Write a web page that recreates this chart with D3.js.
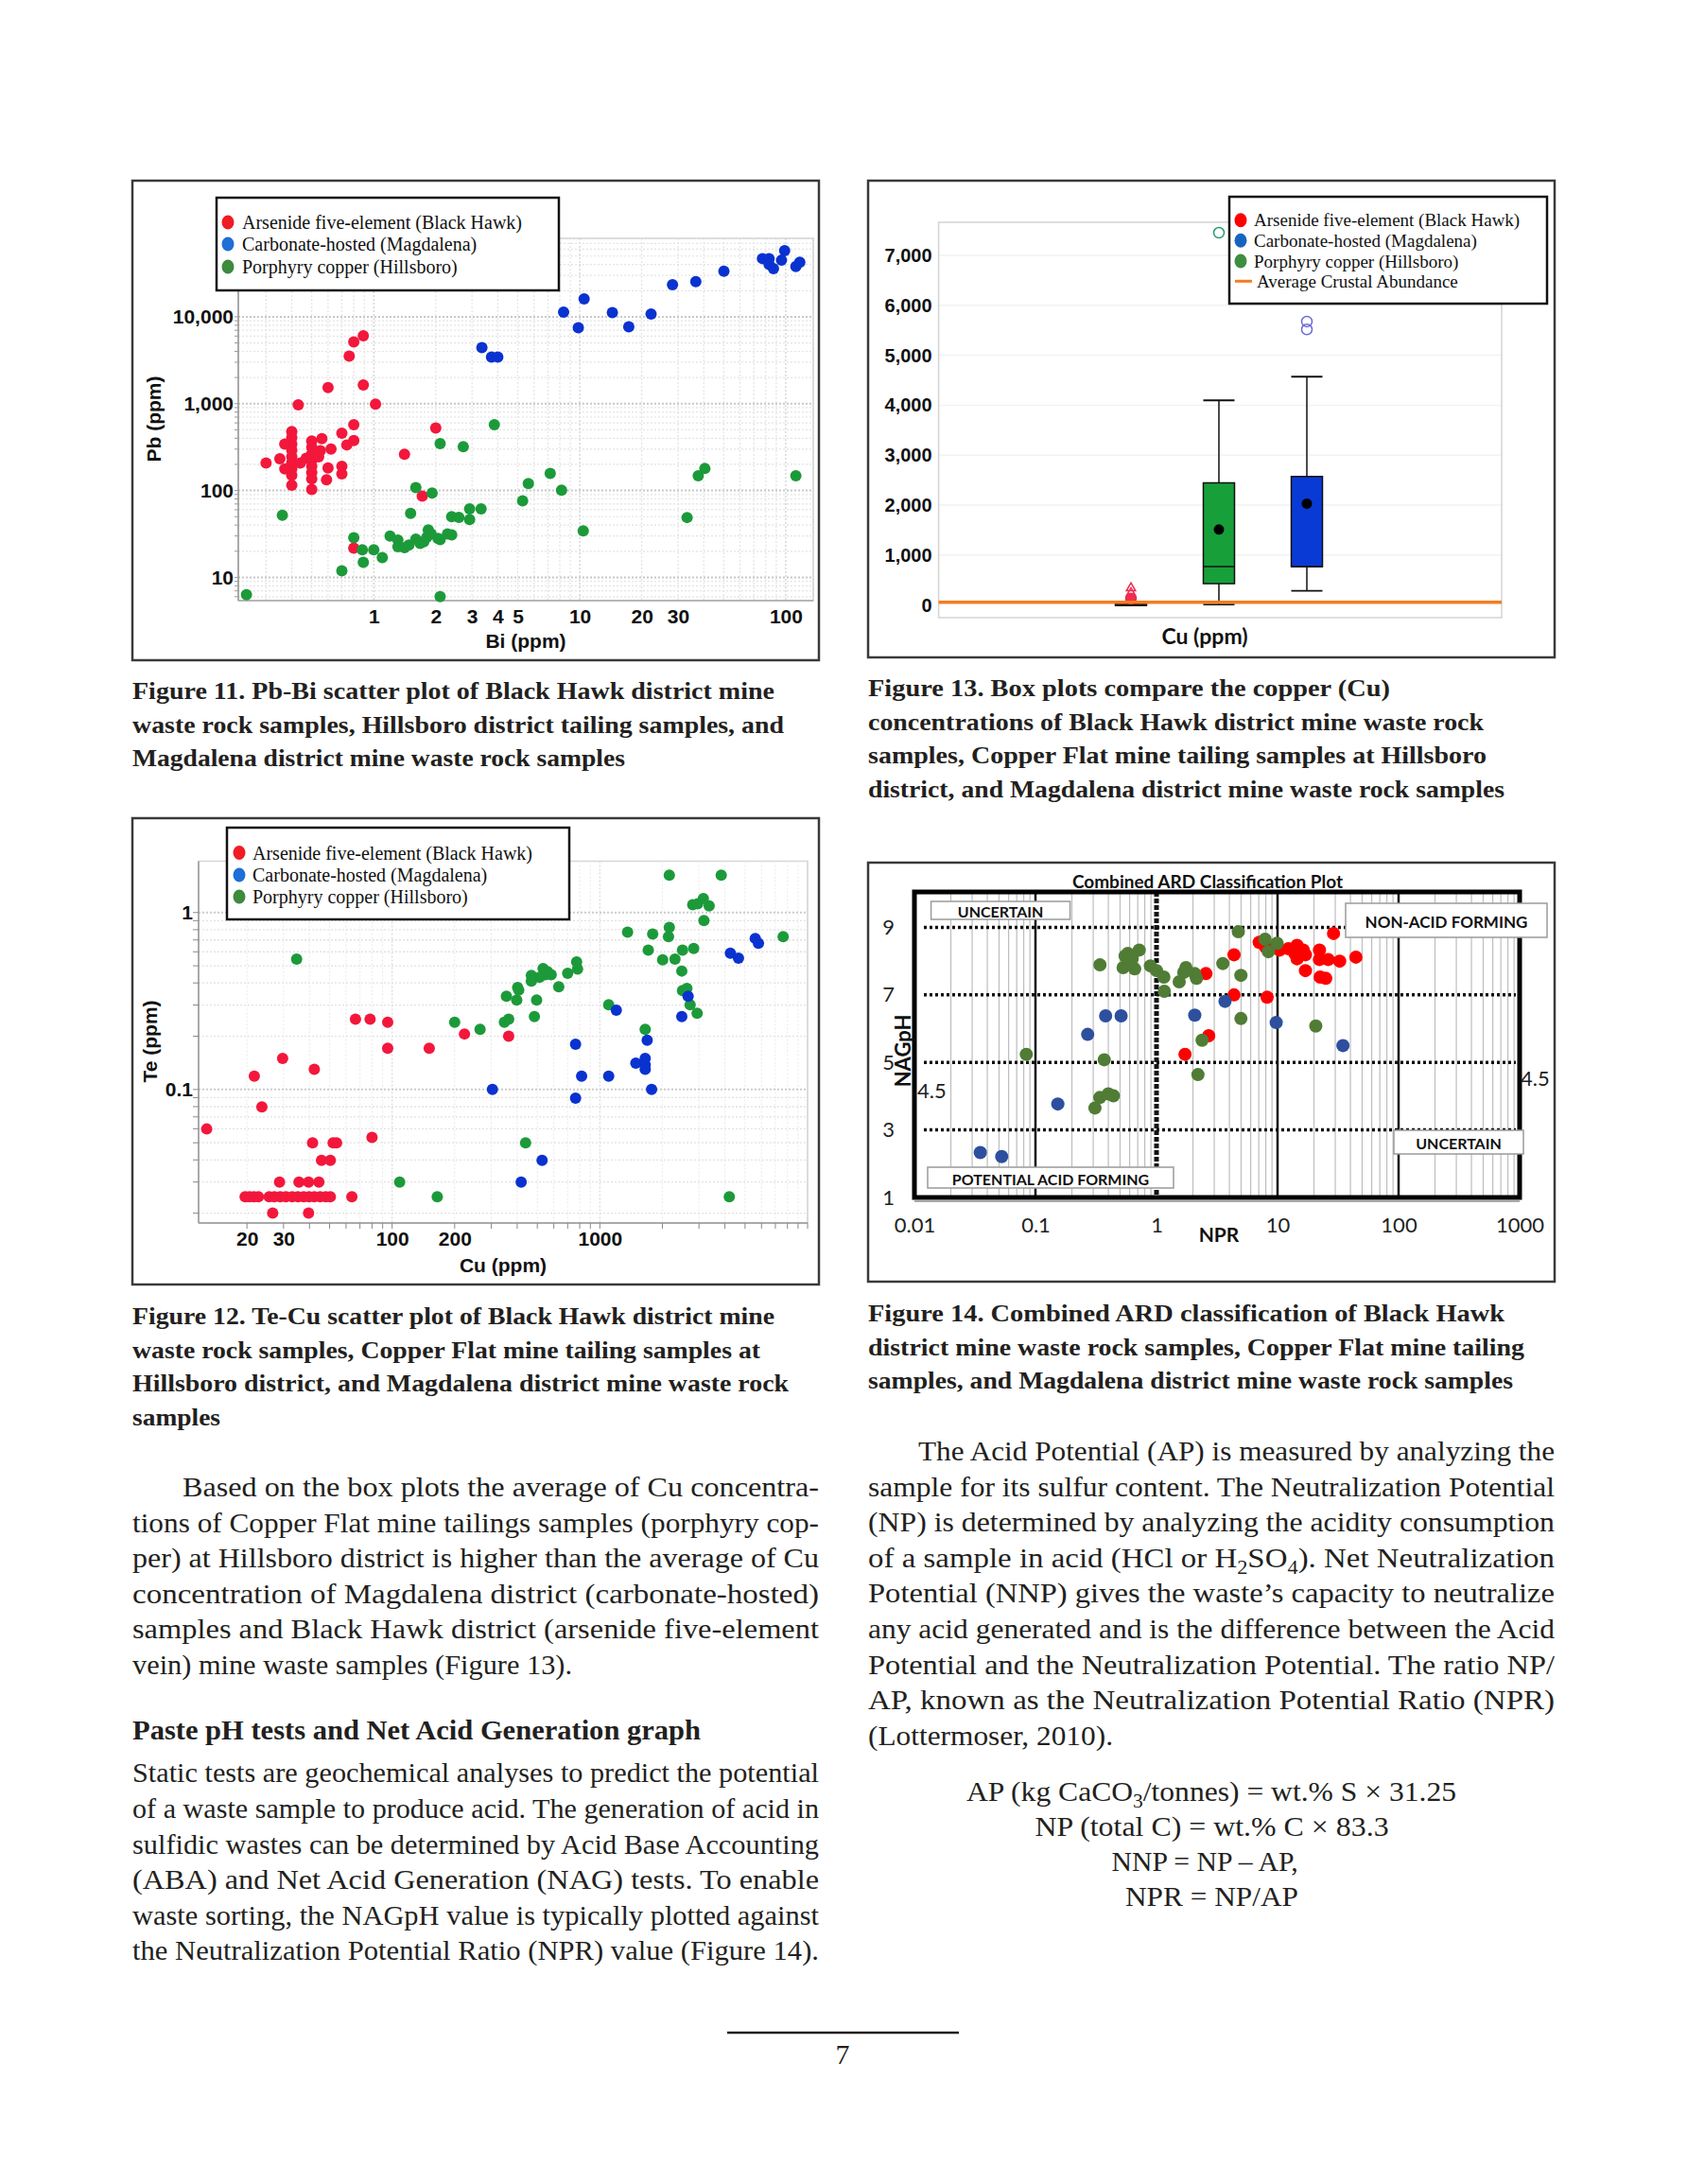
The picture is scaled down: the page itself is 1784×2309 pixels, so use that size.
<!DOCTYPE html>
<html><head><meta charset="utf-8">
<script src="https://cdn.jsdelivr.net/npm/d3@7/dist/d3.min.js"></script>
<style>body{margin:0;background:#fff}svg{display:block}</style>
</head><body>
<svg id="page" width="1784" height="2309"></svg>
<script>
// ================= DATA =================
const legendLabels = ["Arsenide five-element (Black Hawk)", "Carbonate-hosted (Magdalena)", "Porphyry copper (Hillsboro)"];
const legend13Extra = "Average Crustal Abundance";

// Figure 11: [Bi ppm, Pb ppm]
const fig11Red = [[0.89,6060],[0.80,5130],[0.76,3525],[0.60,1530],[0.89,1640],[0.43,970],[1.02,990],[0.80,572],[2.0,526],[0.70,456],[0.56,396],[0.80,377],[0.74,335],[0.62,300],[1.41,261],
[0.40,477],[0.40,405],[0.40,343],[0.40,291],[0.40,246],[0.40,209],[0.40,177],[0.40,150],[0.40,115],
[0.30,207],[0.35,232],[0.37,177],[0.37,343],[0.44,207],
[0.50,371],[0.50,313],[0.50,265],[0.50,224],[0.50,190],[0.50,161],[0.50,136],[0.50,103],
[0.54,244],[0.55,288],[0.59,133],[0.60,182],[0.70,190],[0.70,155],[0.47,235],[1.72,86],[0.80,21.7]];
const fig11Green = [[0.241,6.3],[0.36,52],[0.70,11.9],[0.80,28.6],[0.88,20.8],[0.89,14.9],[1.0,20.8],[1.10,16.9],[1.20,29.9],[1.31,26.8],[1.31,22.6],[1.41,22.0],[1.48,23.5],[1.60,27.5],[1.68,24.6],[1.75,25.7],[1.81,29.0],[1.84,35.2],[1.90,31.6],[2.05,28],[2.10,27.2],[2.28,31.6],[2.39,30.8],[2.39,50],[2.59,49],[2.92,46.5],[2.92,61.6],[3.32,61.6],[1.51,54.5],[1.60,108],[1.92,93.5],[2.10,347],[2.72,319],[3.85,572],[5.28,76],[5.63,120],[7.19,157],[8.16,101],[10.4,34.3],[33.2,48.9],[37.6,148],[40.5,179],[112,148],[2.10,6.0]];
const fig11Blue = [[3.35,4415],[3.73,3435],[4.0,3435],[8.35,11330],[9.84,7465],[10.5,16080],[14.4,11150],[17.3,7660],[22.2,10790],[28.2,23400],[36.6,25460],[50.1,33500],[77.1,46800],[83,46800],[83,40200],[87.2,35800],[95.4,44800],[98.8,57600],[112,37900],[117,42400]];
const fig11XTicks = [1,2,3,4,5,10,20,30,100];
const fig11YTicks = [10,100,1000,10000];

// Figure 12: [Cu ppm, Te ppm]
const fig12Red = [[12.8,0.0598],[21.7,0.119],[23.6,0.0798],[29.7,0.150],[42.2,0.130],[66.6,0.250],[78.3,0.250],[95.2,0.240],[95.2,0.171],[150.9,0.171],[223,0.206],[364,0.200],[41.4,0.050],[52,0.05],[54,0.05],[80,0.0536],[45.7,0.0398],[50.4,0.0398],[28.7,0.030],[35.6,0.030],[39.6,0.030],[44.4,0.030],
[19.6,0.0248],[20.6,0.0248],[21.6,0.0248],[22.7,0.0248],[25.6,0.0248],[27.1,0.0248],[28.9,0.0248],[30.8,0.0248],[33.0,0.0248],[35.2,0.0248],[37.5,0.0248],[39.8,0.0248],[42.2,0.0248],[45.0,0.0248],[47.9,0.0248],[50.4,0.0248],[64.0,0.0248],
[26.6,0.0200],[39.6,0.0200]];
const fig12Green = [[34.7,0.546],[108.7,0.030],[164.9,0.0248],[439,0.050],[200,0.240],[265,0.219],[347,0.240],[364,0.250],[355,0.337],[398,0.320],[402,0.377],[407,0.364],[484,0.258],[496,0.320],[468,0.441],[468,0.41],[512,0.43],[533,0.483],[546,0.445],[583,0.445],[560,0.463],[634,0.381],[700,0.454],[773,0.525],[781,0.479],[1103,0.301],[1360,0.775],[1653,0.219],[1710,0.613],[1796,0.756],[2006,0.54],[2140,0.73],[2160,0.824],[2160,1.625],[2300,0.546],[2500,0.613],[2480,0.467],[2500,0.362],[2625,0.373],[2720,0.301],[2830,0.626],[2800,1.108],[2940,0.27],[2960,1.12],[3150,1.20],[3170,0.902],[3360,1.09],[3840,1.625],[4200,0.0248],[7630,0.73]];
const fig12Blue = [[304,0.1],[418,0.030],[527,0.0398],[764,0.180],[764,0.0894],[817,0.119],[1103,0.119],[1200,0.281],[1490,0.141],[1653,0.150],[1653,0.138],[1653,0.130],[1690,0.190],[1775,0.100],[2480,0.258],[2660,0.337],[4250,0.589],[4650,0.553],[5600,0.714],[5800,0.671]];
const fig12XTicks = [20,30,100,200,1000];
const fig12YTicks = [0.1,1];

// Figure 13: box plots of Cu (ppm), order: Black Hawk, Hillsboro, Magdalena
const boxCategories = ["Black Hawk", "Hillsboro", "Magdalena"];
const boxMin    = [0, 10, 284];
const boxQ1     = [5, 429, 769];
const boxMedian = [15, 769, 769];
const boxQ3     = [30, 2446, 2573];
const boxMax    = [60, 4098, 4571];
const boxMean   = [null, 1513, 2030];
const outliersCircle = [[130], [7453], [5675, 5517]];
const outliersTriangle = [[340, 240], [], []];
const crustalAbundanceCu = 55;
const fig13YTicks = [0,1000,2000,3000,4000,5000,6000,7000];

// Figure 14: [NPR, NAGpH]
const fig14Red = [[29.0,8.82],[44.4,8.12],[7.06,8.56],[7.97,8.42],[10.4,8.33],[12.3,8.37],[13.9,8.23],[14.5,8.47],[16.3,8.33],[17.0,8.19],[14.5,8.07],[22.2,8.33],[22.2,8.05],[26.2,8.05],[32.6,8.0],[17.0,7.72],[22.5,7.53],[25.0,7.49],[4.37,8.19],[2.56,7.63],[4.37,7.0],[8.2,6.93],[2.7,5.79],[1.72,5.24]];
const fig14Green = [[4.74,8.87],[0.341,7.89],[0.58,8.23],[0.72,8.33],[0.63,8.09],[0.53,7.81],[0.66,7.77],[0.6,7.95],[0.55,8.15],[0.89,7.86],[1.0,7.72],[1.15,7.53],[1.16,7.11],[1.54,7.39],[1.68,7.67],[1.75,7.81],[2.07,7.63],[2.14,7.49],[3.53,7.93],[4.98,7.58],[4.98,6.30],[2.2,4.64],[2.38,5.66],[7.89,8.65],[8.4,8.28],[9.9,8.53],[20.7,6.08],[0.084,5.24],[0.37,5.08],[0.31,3.65],[0.34,3.96],[0.40,4.07],[0.44,4.01]];
const fig14Blue = [[0.035,2.33],[0.0526,2.21],[0.153,3.77],[0.27,5.83],[0.38,6.38],[0.51,6.38],[2.07,6.40],[3.68,6.81],[9.75,6.18],[34.7,5.50]];
const fig14XTicks = [0.01,0.1,1,10,100,1000];
const fig14YTicks = [1,3,5,7,9];
const fig14HLines = [3,5,7,9];
const fig14VSolid = [0.1,10,100];
const fig14VDashed = [1];
const fig14Zones = ["UNCERTAIN","NON-ACID FORMING","UNCERTAIN","POTENTIAL ACID FORMING"];

// Page text
const cap11 = ["Figure 11. Pb-Bi scatter plot of Black Hawk district mine","waste rock samples, Hillsboro district tailing samples, and","Magdalena district mine waste rock samples"];
const cap13 = ["Figure 13.  Box plots compare the copper (Cu)","concentrations of Black Hawk district mine waste rock","samples, Copper Flat mine tailing samples at Hillsboro","district, and Magdalena district mine waste rock samples"];
const cap12 = ["Figure 12. Te-Cu scatter plot of Black Hawk district mine","waste rock samples, Copper Flat mine tailing samples at","Hillsboro district, and Magdalena district mine waste rock","samples"];
const cap14 = ["Figure 14.  Combined ARD classification of Black Hawk","district mine waste rock samples, Copper Flat mine tailing","samples, and Magdalena district mine waste rock samples"];
const para1 = ["Based on the box plots the average of Cu concentra-","tions of Copper Flat mine tailings samples (porphyry cop-","per) at Hillsboro district is higher than the average of Cu","concentration of Magdalena district (carbonate-hosted)","samples and Black Hawk district (arsenide five-element","vein) mine waste samples (Figure 13)."];
const heading = "Paste pH tests and Net Acid Generation graph";
const para2 = ["Static tests are geochemical analyses to predict the potential","of a waste sample to produce acid. The generation of acid in","sulfidic wastes can be determined by Acid Base Accounting","(ABA) and Net Acid Generation (NAG) tests. To enable","waste sorting, the NAGpH value is typically plotted against","the Neutralization Potential Ratio (NPR) value (Figure 14)."];
const para3 = ["The Acid Potential (AP) is measured by analyzing the","sample for its sulfur content. The Neutralization Potential","(NP) is determined by analyzing the acidity consumption","of a sample in acid (HCl or H_2SO_4). Net Neutralization","Potential (NNP) gives the waste\u2019s capacity to neutralize","any acid generated and is the difference between the Acid","Potential and the Neutralization Potential. The ratio NP/","AP, known as the Neutralization Potential Ratio (NPR)","(Lottermoser, 2010)."];
const equations = ["AP (kg CaCO_3/tonnes) = wt.% S \u00d7 31.25","NP (total C) = wt.% C \u00d7 83.3","NNP = NP \u2013 AP,","NPR = NP/AP"];
const pageNumber = "7";

// ================= DRAWING =================
const svg = d3.select("#page");
svg.append("rect").attr("width",1784).attr("height",2309).attr("fill","#fff");
const INK = "#231f20";
const SANS = "Liberation Sans, Arial, sans-serif";
const SERIF = "Liberation Serif, Times New Roman, serif";
const CAL = "Lato, Open Sans, sans-serif";

function frame(x,y,w,h){
  svg.append("rect").attr("x",x).attr("y",y).attr("width",w).attr("height",h)
    .attr("fill","none").attr("stroke","#3a3a3a").attr("stroke-width",2.5);
}
const isMajor = v => Math.abs(Math.log10(v) - Math.round(Math.log10(v))) < 1e-9;

function legend(g, x, y, w, h, rows, colors){
  g.append("rect").attr("x",x).attr("y",y).attr("width",w).attr("height",h)
    .attr("fill","#fff").attr("stroke","#111").attr("stroke-width",2.5);
  rows.forEach((r,i)=>{
    const cy = r.cy;
    if (r.line) {
      g.append("line").attr("x1",x+6).attr("x2",x+24).attr("y1",cy).attr("y2",cy).attr("stroke","#f47c20").attr("stroke-width",3);
    } else {
      g.append("ellipse").attr("cx",r.dx).attr("cy",cy).attr("rx",6.5).attr("ry",7.5).attr("fill",colors[i]);
    }
    g.append("text").attr("x",r.tx).attr("y",cy).attr("dominant-baseline","central")
      .attr("font-family",SERIF).attr("font-size",r.fs).attr("fill","#111").text(r.label);
  });
}

// ---------- Figure 11 ----------
frame(140,191,726,507);
{
  const L=252,R=860,T=252,B=635;
  const x = d3.scaleLog().domain([0.22,136]).range([L,R]);
  const y = d3.scaleLog().domain([5.4,80000]).range([B,T]);
  const g = svg.append("g");
  g.append("rect").attr("x",L).attr("y",T).attr("width",R-L).attr("height",B-T).attr("fill","none").attr("stroke","#cfcfcf").attr("stroke-width",1.5);
  g.selectAll(".vg").data(x.ticks()).join("line").attr("x1",d=>x(d)).attr("x2",d=>x(d)).attr("y1",T).attr("y2",B)
    .attr("stroke",d=>isMajor(d)?"#cfcfcf":"#e4e4e4").attr("stroke-width",1.2).attr("stroke-dasharray","2,2");
  g.selectAll(".hg").data(y.ticks()).join("line").attr("x1",L).attr("x2",R).attr("y1",d=>y(d)).attr("y2",d=>y(d))
    .attr("stroke",d=>isMajor(d)?"#c8c8c8":"#e4e4e4").attr("stroke-width",d=>isMajor(d)?2:1.2).attr("stroke-dasharray","2,2");
  g.selectAll(".lt").data(y.ticks()).join("line").attr("x1",L-4).attr("x2",L).attr("y1",d=>y(d)).attr("y2",d=>y(d)).attr("stroke","#999");
  g.append("line").attr("x1",L).attr("x2",L).attr("y1",T).attr("y2",B).attr("stroke","#999").attr("stroke-width",1.5);
  g.append("line").attr("x1",L).attr("x2",R).attr("y1",B).attr("y2",B).attr("stroke","#aaa").attr("stroke-width",1.5);
  const ax = g.append("g").attr("transform",`translate(0,${B})`).call(d3.axisBottom(x).tickValues(fig11XTicks).tickFormat(d=>d).tickSize(0).tickPadding(9));
  const ay = g.append("g").attr("transform",`translate(${L},0)`).call(d3.axisLeft(y).tickValues(fig11YTicks).tickFormat(d3.format(",")).tickSize(0).tickPadding(5));
  [ax,ay].forEach(a=>{a.select(".domain").remove(); a.selectAll("text").attr("font-family",SANS).attr("font-weight","bold").attr("font-size",21).attr("fill","#111");});
  g.append("text").attr("transform","translate(170,443) rotate(-90)").attr("text-anchor","middle").attr("font-family",SANS).attr("font-weight","bold").attr("font-size",21).attr("fill","#111").text("Pb (ppm)");
  g.append("text").attr("x",556).attr("y",685).attr("text-anchor","middle").attr("font-family",SANS).attr("font-weight","bold").attr("font-size",21).attr("fill","#111").text("Bi (ppm)");
  const draw = (data,color)=> g.append("g").selectAll("circle").data(data).join("circle")
    .attr("cx",d=>x(d[0])).attr("cy",d=>y(d[1])).attr("r",6).attr("fill",color);
  draw(fig11Red,"#f3173c"); draw(fig11Green,"#1c9a3a"); draw(fig11Blue,"#0a32d0");
  legend(g,229,209,362,98,[
    {cy:235,dx:241,tx:256,fs:20,label:legendLabels[0]},
    {cy:258,dx:241,tx:256,fs:20,label:legendLabels[1]},
    {cy:282,dx:241,tx:256,fs:20,label:legendLabels[2]}],["#f01c24","#1f6fd6","#3d8b3d"]);
}

// ---------- Figure 12 ----------
frame(140,865,726,493);
{
  const L=210,R=854,T=910.5,B=1293;
  const x = d3.scaleLog().domain([11.7,10000]).range([L,R]);
  const y = d3.scaleLog().domain([0.0176,1.95]).range([B,T]);
  const g = svg.append("g");
  g.append("rect").attr("x",L).attr("y",T).attr("width",R-L).attr("height",B-T).attr("fill","none").attr("stroke","#d5d5d5").attr("stroke-width",1.5);
  g.selectAll(".vg").data(x.ticks()).join("line").attr("x1",d=>x(d)).attr("x2",d=>x(d)).attr("y1",T).attr("y2",B)
    .attr("stroke",d=>isMajor(d)?"#d8d8d8":"#ececec").attr("stroke-width",1.2).attr("stroke-dasharray","2,2");
  g.selectAll(".hg").data(y.ticks()).join("line").attr("x1",L).attr("x2",R).attr("y1",d=>y(d)).attr("y2",d=>y(d))
    .attr("stroke",d=>isMajor(d)?"#cccccc":"#e2e2e2").attr("stroke-width",d=>isMajor(d)?2:1.3).attr("stroke-dasharray","2,2");
  g.append("line").attr("x1",L).attr("x2",R).attr("y1",B).attr("y2",B).attr("stroke","#999").attr("stroke-width",1.5);
  g.append("line").attr("x1",L).attr("x2",L).attr("y1",T).attr("y2",B).attr("stroke","#999").attr("stroke-width",1.5);
  g.selectAll(".bt").data(x.ticks()).join("line").attr("x1",d=>x(d)).attr("x2",d=>x(d)).attr("y1",B).attr("y2",B+6).attr("stroke","#888");
  g.selectAll(".lt").data(y.ticks()).join("line").attr("x1",L-6).attr("x2",L).attr("y1",d=>y(d)).attr("y2",d=>y(d)).attr("stroke","#888");
  const ax = g.append("g").attr("transform",`translate(0,${B})`).call(d3.axisBottom(x).tickValues(fig12XTicks).tickFormat(d=>d).tickSize(0).tickPadding(9));
  const ay = g.append("g").attr("transform",`translate(${L},0)`).call(d3.axisLeft(y).tickValues(fig12YTicks).tickFormat(d=>d).tickSize(0).tickPadding(6));
  [ax,ay].forEach(a=>{a.select(".domain").remove(); a.selectAll("text").attr("font-family",SANS).attr("font-weight","bold").attr("font-size",21).attr("fill","#111");});
  g.append("text").attr("transform","translate(166,1101) rotate(-90)").attr("text-anchor","middle").attr("font-family",SANS).attr("font-weight","bold").attr("font-size",21).attr("fill","#111").text("Te (ppm)");
  g.append("text").attr("x",532).attr("y",1345).attr("text-anchor","middle").attr("font-family",SANS).attr("font-weight","bold").attr("font-size",21).attr("fill","#111").text("Cu (ppm)");
  const draw = (data,color)=> g.append("g").selectAll("circle").data(data).join("circle")
    .attr("cx",d=>x(d[0])).attr("cy",d=>y(d[1])).attr("r",6).attr("fill",color);
  draw(fig12Red,"#f3173c"); draw(fig12Green,"#1c9a3a"); draw(fig12Blue,"#0a32d0");
  legend(g,240,875,362,97,[
    {cy:901.5,dx:253,tx:267,fs:20,label:legendLabels[0]},
    {cy:925,dx:253,tx:267,fs:20,label:legendLabels[1]},
    {cy:948,dx:253,tx:267,fs:20,label:legendLabels[2]}],["#f01c24","#1f6fd6","#3d8b3d"]);
}

// ---------- Figure 13 ----------
frame(918,191,726,504);
{
  const L=992.6,R=1588,T=235,B=653;
  const y = d3.scaleLinear().domain([-252,7662]).range([B,T]);
  const x = d3.scalePoint().domain(boxCategories).range([1196,1382]);
  const g = svg.append("g");
  g.selectAll(".hg").data(fig13YTicks.slice(1)).join("line").attr("x1",L).attr("x2",R).attr("y1",d=>y(d)).attr("y2",d=>y(d)).attr("stroke","#f2f2f2").attr("stroke-width",1.5);
  g.append("rect").attr("x",L).attr("y",T).attr("width",R-L).attr("height",B-T).attr("fill","none").attr("stroke","#d3d3d3").attr("stroke-width",1.5);
  const ay = g.append("g").attr("transform",`translate(${L},0)`).call(d3.axisLeft(y).tickValues(fig13YTicks).tickFormat(d3.format(",")).tickSize(0).tickPadding(7));
  ay.select(".domain").remove();
  ay.selectAll("text").attr("font-family",SANS).attr("font-weight","bold").attr("font-size",20).attr("fill","#111");
  g.append("text").attr("x",1274).attr("y",681).attr("text-anchor","middle").attr("font-family",CAL).attr("font-weight","bold").attr("font-size",23).attr("fill","#111").text("Cu (ppm)");
  const fills = ["#e8102a","#17a03a","#0a3ad6"];
  const outl = ["#ee2a50","#2a9a6a","#6a6ad8"];
  const bw = 33;
  boxCategories.forEach((c,i)=>{
    const cx = x(c);
    const bg = g.append("g");
    bg.append("line").attr("x1",cx).attr("x2",cx).attr("y1",y(boxMax[i])).attr("y2",y(boxMin[i])).attr("stroke","#111").attr("stroke-width",1.5);
    [boxMax[i],boxMin[i]].forEach(v=> bg.append("line").attr("x1",cx-bw/2).attr("x2",cx+bw/2).attr("y1",y(v)).attr("y2",y(v)).attr("stroke","#111").attr("stroke-width",1.8));
    bg.append("rect").attr("x",cx-bw/2).attr("y",y(boxQ3[i])).attr("width",bw).attr("height",Math.max(2,y(boxQ1[i])-y(boxQ3[i])))
      .attr("fill",fills[i]).attr("stroke","#111").attr("stroke-width",1.5);
    bg.append("line").attr("x1",cx-bw/2).attr("x2",cx+bw/2).attr("y1",y(boxMedian[i])).attr("y2",y(boxMedian[i])).attr("stroke","#111").attr("stroke-width",1.5);
    if (boxMean[i]!==null) bg.append("circle").attr("cx",cx).attr("cy",y(boxMean[i])).attr("r",5.5).attr("fill","#000");
    outliersCircle[i].forEach(v=> bg.append("circle").attr("cx",cx).attr("cy",y(v)).attr("r",5.5).attr("fill", i===0?"#f0304c":"none").attr("stroke",outl[i]).attr("stroke-width",1.5));
    outliersTriangle[i].forEach(v=> bg.append("path").attr("d",d3.symbol(d3.symbolTriangle,40)()).attr("transform",`translate(${cx},${y(v)})`).attr("fill","none").attr("stroke",outl[i]).attr("stroke-width",1.5));
  });
  g.append("line").attr("x1",L).attr("x2",R).attr("y1",y(crustalAbundanceCu)).attr("y2",y(crustalAbundanceCu)).attr("stroke","#f47c20").attr("stroke-width",3.5);
  legend(g,1300,208,336,113,[
    {cy:232.7,dx:1312,tx:1326,fs:19,label:legendLabels[0]},
    {cy:254.3,dx:1312,tx:1326,fs:19,label:legendLabels[1]},
    {cy:276,dx:1312,tx:1326,fs:19,label:legendLabels[2]},
    {cy:297.3,tx:1329,fs:19,label:legend13Extra,line:true}],["#ff0000","#1565c0","#3e8e41"]);
}

// ---------- Figure 14 ----------
frame(918,912,726,443);
{
  const L=967,R=1607,T=943,B=1266;
  const x = d3.scaleLog().domain([0.01,1000]).range([L,R]);
  const y = d3.scaleLinear().domain([1,10.05]).range([B,T]);
  const g = svg.append("g");
  g.selectAll(".vg").data(x.ticks().filter(d=>!isMajor(d))).join("line").attr("x1",d=>x(d)).attr("x2",d=>x(d)).attr("y1",T).attr("y2",B).attr("stroke","#bdbdbd").attr("stroke-width",1.2);
  g.selectAll(".hl").data(fig14HLines).join("line").attr("x1",L+10).attr("x2",R-4).attr("y1",d=>y(d)).attr("y2",d=>y(d)).attr("stroke","#111").attr("stroke-width",3.5).attr("stroke-dasharray","3,3");
  g.selectAll(".vs").data(fig14VSolid).join("line").attr("x1",d=>x(d)).attr("x2",d=>x(d)).attr("y1",T).attr("y2",B).attr("stroke","#111").attr("stroke-width",2.5);
  g.selectAll(".vd").data(fig14VDashed).join("line").attr("x1",d=>x(d)).attr("x2",d=>x(d)).attr("y1",T).attr("y2",B).attr("stroke","#111").attr("stroke-width",5).attr("stroke-dasharray","5,2");
  g.append("line").attr("x1",L).attr("x2",R).attr("y1",B+4).attr("y2",B+4).attr("stroke","#aaa").attr("stroke-width",2);
  g.append("rect").attr("x",L).attr("y",T).attr("width",R-L).attr("height",B-T).attr("fill","none").attr("stroke","#000").attr("stroke-width",5);
  const zones = [
    {x:984.6,y:953,w:147,h:19,fs:16},
    {x:1423,y:955,w:213,h:36,fs:17},
    {x:1474,y:1195,w:137,h:25,fs:16},
    {x:981,y:1234,w:260,h:22,fs:16}];
  zones.forEach((z,i)=>{
    g.append("rect").attr("x",z.x).attr("y",z.y).attr("width",z.w).attr("height",z.h).attr("fill","#fff").attr("stroke","#9a9a9a").attr("stroke-width",1.5);
    g.append("text").attr("x",z.x+z.w/2).attr("y",z.y+z.h/2+1).attr("text-anchor","middle").attr("dominant-baseline","central")
      .attr("font-family",CAL).attr("font-weight","bold").attr("font-size",z.fs).attr("fill","#111").text(fig14Zones[i]);
  });
  const draw = (data,color)=> g.append("g").selectAll("circle").data(data).join("circle")
    .attr("cx",d=>x(d[0])).attr("cy",d=>y(d[1])).attr("r",7).attr("fill",color);
  draw(fig14Red,"#ff0000"); draw(fig14Green,"#507c35"); draw(fig14Blue,"#2d4f9e");
  const ax = g.append("g").attr("transform",`translate(0,${B})`).call(d3.axisBottom(x).tickValues(fig14XTicks).tickFormat(d=>String(d)).tickSize(0).tickPadding(21));
  const ay = g.append("g").attr("transform",`translate(${L},0)`).call(d3.axisLeft(y).tickValues(fig14YTicks).tickFormat(d=>d).tickSize(0).tickPadding(21));
  [ax,ay].forEach(a=>{a.select(".domain").remove(); a.selectAll("text").attr("font-family",CAL).attr("font-size",22).attr("fill","#222");});
  g.append("text").attr("x",1277).attr("y",939).attr("text-anchor","middle").attr("font-family",CAL).attr("font-weight","bold").attr("font-size",19).attr("fill","#111").text("Combined ARD Classification Plot");
  g.append("text").attr("transform","translate(963,1111) rotate(-90)").attr("text-anchor","middle").attr("font-family",CAL).attr("font-weight","bold").attr("font-size",22).attr("fill","#111").text("NAGpH");
  g.append("text").attr("x",1289).attr("y",1313).attr("text-anchor","middle").attr("font-family",CAL).attr("font-weight","bold").attr("font-size",21).attr("fill","#111").text("NPR");
  g.append("text").attr("x",970).attr("y",1161).attr("font-family",CAL).attr("font-size",22).attr("fill","#222").text("4.5");
  g.append("text").attr("x",1608).attr("y",1148).attr("font-family",CAL).attr("font-size",22).attr("fill","#222").text("4.5");
}

// ---------- Page text ----------
function textLine(str, x, y, width, size, weight){
  const t = svg.append("text").attr("x",x).attr("y",y).attr("font-family",SERIF)
    .attr("font-size",size).attr("font-weight",weight||"normal").attr("fill",INK);
  const parts = str.split(/(_\d)/).filter(p=>p.length);
  let sub = false;
  parts.forEach(p=>{
    if (p[0]==="_") { t.append("tspan").attr("dy",sub?0:7).attr("font-size",size*0.68).text(p.slice(1)); sub=true; }
    else { t.append("tspan").attr("dy",sub?-7:0).text(p); sub=false; }
  });
  if (width) t.attr("textLength",width).attr("lengthAdjust","spacingAndGlyphs");
  return t;
}
function block(lines, x, y0, step, widths, size, weight, indent){
  lines.forEach((s,i)=> textLine(s, x + (i===0?(indent||0):0), y0 + i*step, widths[i], size, weight));
}
block(cap11,140,739,35.5,[679,689,521],26,"bold");
block(cap13,918,736,35.5,[552,651,654,673],26,"bold");
block(cap12,140,1400,35.5,[679,664,694,93],26,"bold");
block(cap14,918,1397,35.5,[673,694,682],26,"bold");
block(para1,140,1582,37.6,[673,726,726,726,726,465],30,"normal",53);
textLine(heading,140,1839,601,30,"bold");
block(para2,140,1884.4,37.6,[726,726,726,726,726,726],30,"normal");
block(para3,918,1544,37.6,[673,726,726,726,726,726,726,726,259],30,"normal",53);
const eqX = [1022,1094.6,1175.6,1190];
const eqW = [518,374,197,183];
equations.forEach((s,i)=> textLine(s, eqX[i], 1903.5 + i*37.3, eqW[i], 30, "normal"));
svg.append("line").attr("x1",769).attr("x2",1014).attr("y1",2149).attr("y2",2149).attr("stroke",INK).attr("stroke-width",2.5);
svg.append("text").attr("x",891).attr("y",2182).attr("text-anchor","middle").attr("font-family",SERIF).attr("font-size",30).attr("fill",INK).text(pageNumber);
</script>
</body></html>
